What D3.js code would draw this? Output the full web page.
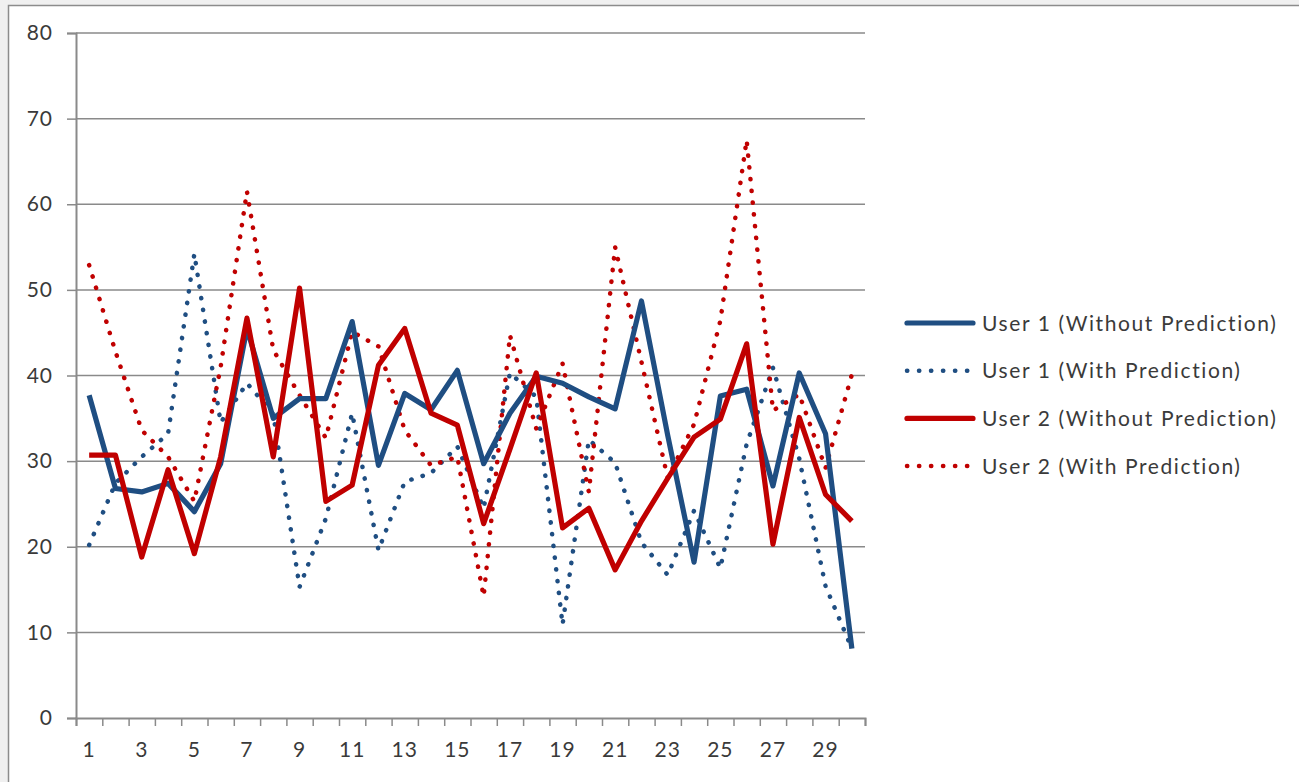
<!DOCTYPE html>
<html>
<head>
<meta charset="utf-8">
<script src="https://cdnjs.cloudflare.com/ajax/libs/d3/7.8.5/d3.min.js"></script>
<style>
  body { margin: 0; background: #f0f0f0; }
  svg { display: block; }
  text { font-family: Lato, "Open Sans", sans-serif; fill: #3a3a3a; }
</style>
</head>
<body>
<script>
var days = d3.range(1, 31);
var xLabels = [1, 3, 5, 7, 9, 11, 13, 15, 17, 19, 21, 23, 25, 27, 29];
var yTicks = [0, 10, 20, 30, 40, 50, 60, 70, 80];

var user1Without = [37.7, 26.8, 26.4, 27.4, 24.1, 29.7, 45.5, 35.0, 37.3, 37.3,
                    46.3, 29.5, 37.9, 36.0, 40.6, 29.7, 35.6, 39.9, 39.1, 37.5,
                    36.1, 48.7, 33.0, 18.2, 37.6, 38.4, 27.1, 40.3, 33.2, 8.1];
var user1With = [20.2, 27.4, 30.5, 33.2, 54.2, 34.5, 39.1, 35.5, 15.3, 23.3,
                 35.6, 19.6, 27.6, 28.6, 31.7, 24.5, 40.3, 37.5, 10.9, 32.5,
                 29.8, 20.5, 16.7, 24.2, 17.5, 32.0, 40.9, 30.3, 15.4, 8.1];
var user2Without = [30.7, 30.7, 18.8, 29.0, 19.2, 30.5, 46.7, 30.5, 50.2, 25.3,
                    27.2, 41.2, 45.5, 35.6, 34.2, 22.7, 31.4, 40.3, 22.2, 24.5,
                    17.3, 23.0, 28.0, 32.8, 34.9, 43.7, 20.3, 35.1, 26.1, 23.0];
var user2With = [52.9, 42.8, 33.6, 30.5, 25.3, 41.0, 61.5, 43.0, 37.7, 32.7,
                 45.1, 43.4, 33.6, 29.5, 30.5, 14.2, 44.7, 33.8, 41.4, 26.4,
                 55.0, 41.6, 28.0, 34.3, 46.4, 67.5, 35.9, 37.8, 29.2, 40.1];

var seriesNames = ["User 1 (Without Prediction)", "User 1 (With Prediction)",
                   "User 2 (Without Prediction)", "User 2 (With Prediction)"];
var seriesValues = [user1Without, user1With, user2Without, user2With];
var seriesColors = ["#1f4e82", "#1f4e82", "#c00000", "#c00000"];
var seriesDotted = [false, true, false, true];

var W = 1299, H = 782;
var plotLeft = 76, plotRight = 865, plotTop = 33, plotBottom = 718;

var svg = d3.select("body").append("svg")
  .attr("width", W)
  .attr("height", H);

// chart frame
svg.append("rect")
  .attr("x", 8.5).attr("y", 5.5)
  .attr("width", W + 10).attr("height", H + 10)
  .attr("fill", "#ffffff")
  .attr("stroke", "#8c8c8c")
  .attr("stroke-width", 1.5);

var x = d3.scaleBand().domain(days).range([plotLeft, plotRight]).padding(0);
var xEdge = d3.scaleLinear().domain([0, 30]).range([plotLeft, plotRight]);
var y = d3.scaleLinear().domain([0, 80]).range([plotBottom, plotTop]);

// gridlines
svg.append("g").selectAll("line").data(yTicks.filter(function(d) { return d > 0; }))
  .enter().append("line")
  .attr("x1", plotLeft).attr("x2", plotRight)
  .attr("y1", function(d) { return y(d); })
  .attr("y2", function(d) { return y(d); })
  .attr("stroke", "#8a8a8a")
  .attr("stroke-width", 1.5);

// y axis
var yAxis = d3.axisLeft(y).tickValues(yTicks).tickSize(9).tickPadding(14);
var gy = svg.append("g").attr("transform", "translate(" + plotLeft + ",0)").call(yAxis);
gy.select(".domain").attr("stroke", "#8a8a8a").attr("stroke-width", 2);
gy.selectAll(".tick line").attr("stroke", "#8a8a8a").attr("stroke-width", 1.5);
gy.selectAll(".tick text").attr("font-size", 21).attr("font-family", "Lato")
  .attr("letter-spacing", "1px").attr("fill", "#333");

// x axis ticks on category edges
var xTickAxis = d3.axisBottom(xEdge).tickValues(d3.range(0, 31)).tickSize(8).tickFormat("");
var gx = svg.append("g").attr("transform", "translate(0," + plotBottom + ")").call(xTickAxis);
gx.select(".domain").attr("stroke", "#8a8a8a").attr("stroke-width", 2);
gx.selectAll(".tick line").attr("stroke", "#8a8a8a").attr("stroke-width", 1.5);

// x labels at category centres
var xLabelAxis = d3.axisBottom(x).tickValues(xLabels).tickSize(0).tickPadding(24);
var gxl = svg.append("g").attr("transform", "translate(0," + plotBottom + ")").call(xLabelAxis);
gxl.select(".domain").remove();
gxl.selectAll(".tick text").attr("font-size", 21).attr("font-family", "Lato")
  .attr("letter-spacing", "1px").attr("fill", "#333");

var line = d3.line()
  .x(function(d, i) { return x(days[i]) + x.bandwidth() / 2; })
  .y(function(d) { return y(d); });

// draw order: dotted first then solid
var order = [1, 3, 0, 2];
order.forEach(function(k) {
  var path = svg.append("path")
    .datum(seriesValues[k])
    .attr("d", line)
    .attr("fill", "none")
    .attr("stroke", seriesColors[k])
    .attr("stroke-linejoin", "round");
  if (seriesDotted[k]) {
    path.attr("stroke-width", 4.5)
      .attr("stroke-linecap", "round")
      .attr("stroke-dasharray", "0.3,11.5");
  } else {
    path.attr("stroke-width", 5.2)
      .attr("stroke-linecap", "butt");
  }
});

// legend
var legend = svg.append("g");
seriesNames.forEach(function(name, i) {
  var ly = 323 + i * 47.7;
  var l = legend.append("line")
    .attr("x1", 907).attr("x2", 973)
    .attr("y1", ly).attr("y2", ly)
    .attr("stroke", seriesColors[i]);
  if (seriesDotted[i]) {
    l.attr("stroke-width", 4.5).attr("stroke-linecap", "round").attr("stroke-dasharray", "0.3,11.7")
      .attr("x2", 968);
  } else {
    l.attr("stroke-width", 5.2).attr("stroke-linecap", "round");
  }
  legend.append("text")
    .attr("x", 982).attr("y", ly)
    .attr("dy", "0.36em")
    .attr("font-size", 21)
    .attr("letter-spacing", "1.6px")
    .text(name);
});
</script>
</body>
</html>
